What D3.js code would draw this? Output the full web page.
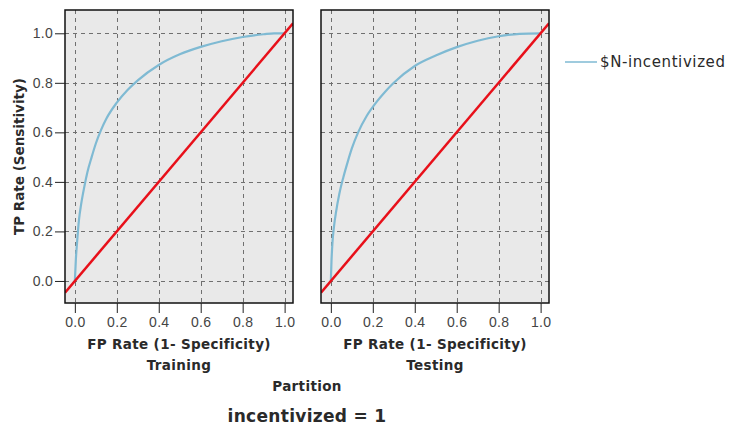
<!DOCTYPE html>
<html>
<head>
<meta charset="utf-8">
<script src="https://cdn.jsdelivr.net/npm/d3@7/dist/d3.min.js"></script>
<style>
  html, body { margin: 0; padding: 0; background: #fff; }
  svg { display: block; font-family: "DejaVu Sans", sans-serif; }
</style>
</head>
<body>
<svg id="chart" width="732" height="428"></svg>
<script>
// ROC curve for the incentivized = 1 subgroup, one panel per partition
const partitions = ["Training", "Testing"];
const seriesName = "$N-incentivized";

const trainFpr = [0, 0.005, 0.01, 0.02, 0.03, 0.045, 0.06, 0.08, 0.1, 0.125, 0.15, 0.2, 0.25, 0.3, 0.4, 0.5, 0.6, 0.7, 0.8, 0.9, 0.95, 1.0];
const trainTpr = [0, 0.09, 0.15, 0.25, 0.31, 0.38, 0.44, 0.50, 0.555, 0.61, 0.655, 0.72, 0.77, 0.81, 0.872, 0.915, 0.945, 0.968, 0.985, 0.996, 1.0, 1.0];

const testFpr = [0, 0.003, 0.008, 0.015, 0.025, 0.04, 0.06, 0.08, 0.1, 0.13, 0.17, 0.22, 0.26, 0.3, 0.4, 0.5, 0.6, 0.7, 0.8, 0.9, 1.0];
const testTpr = [0, 0.08, 0.16, 0.22, 0.28, 0.35, 0.42, 0.48, 0.535, 0.6, 0.665, 0.725, 0.765, 0.8, 0.868, 0.91, 0.944, 0.97, 0.988, 0.998, 1.0];

const tickValues = [0, 0.2, 0.4, 0.6, 0.8, 1.0];
const xDomain = [-0.047, 1.04];
const yDomain = [-0.089, 1.094];

const rocData = [
  trainFpr.map((f, i) => [f, trainTpr[i]]),
  testFpr.map((f, i) => [f, testTpr[i]])
];

const svg = d3.select("#chart");
const panelLeft = [65, 321];
const panelW = 228, panelTop = 10, panelH = 293;

const curveColor = "#7fbad3";
const refColor = "#e8101a";
const textColor = "#2a2a2a";
const titleSize = 13.5, titleSpacing = 0.35;

partitions.forEach((name, p) => {
  const x = d3.scaleLinear().domain(xDomain).range([panelLeft[p], panelLeft[p] + panelW]);
  const y = d3.scaleLinear().domain(yDomain).range([panelTop + panelH, panelTop]);
  const g = svg.append("g");

  g.append("rect")
    .attr("x", panelLeft[p]).attr("y", panelTop)
    .attr("width", panelW).attr("height", panelH)
    .attr("fill", "#e9e9e9");

  // dashed grid
  g.append("g").selectAll("line").data(tickValues).join("line")
    .attr("x1", d => Math.round(x(d)) + 0.5).attr("x2", d => Math.round(x(d)) + 0.5)
    .attr("y1", panelTop).attr("y2", panelTop + panelH)
    .attr("stroke", "#707070").attr("stroke-width", 1).attr("stroke-dasharray", "4,4");
  g.append("g").selectAll("line").data(tickValues).join("line")
    .attr("y1", d => Math.round(y(d)) + 0.5).attr("y2", d => Math.round(y(d)) + 0.5)
    .attr("x1", panelLeft[p]).attr("x2", panelLeft[p] + panelW)
    .attr("stroke", "#707070").attr("stroke-width", 1).attr("stroke-dasharray", "4,4");

  const clipId = "clip" + p;
  g.append("clipPath").attr("id", clipId).append("rect")
    .attr("x", panelLeft[p]).attr("y", panelTop)
    .attr("width", panelW).attr("height", panelH);

  // ROC curve
  g.append("path")
    .datum(rocData[p])
    .attr("clip-path", `url(#${clipId})`)
    .attr("fill", "none").attr("stroke", curveColor).attr("stroke-width", 2.2)
    .attr("stroke-linejoin", "round")
    .attr("d", d3.line().x(d => x(d[0])).y(d => y(d[1])).curve(d3.curveMonotoneX));

  // chance diagonal
  g.append("path")
    .datum([[xDomain[0], xDomain[0]], [xDomain[1], xDomain[1]]])
    .attr("clip-path", `url(#${clipId})`)
    .attr("fill", "none").attr("stroke", refColor).attr("stroke-width", 2.5)
    .attr("d", d3.line().x(d => x(d[0])).y(d => y(d[1])));

  g.append("rect")
    .attr("x", panelLeft[p]).attr("y", panelTop)
    .attr("width", panelW).attr("height", panelH)
    .attr("fill", "none").attr("stroke", "#111").attr("stroke-width", 1.5);

  // x axis
  const xAxis = g.append("g")
    .attr("transform", `translate(0,${panelTop + panelH})`)
    .call(d3.axisBottom(x).tickValues(tickValues).tickFormat(d3.format(".1f")).tickSize(10).tickPadding(4));
  xAxis.select(".domain").remove();
  xAxis.selectAll(".tick line").attr("stroke", "#222");
  xAxis.selectAll("text").attr("fill", "#444").attr("font-size", 14).attr("letter-spacing", 0.3);

  if (p === 0) {
    const yAxis = g.append("g")
      .attr("transform", `translate(${panelLeft[p]},0)`)
      .call(d3.axisLeft(y).tickValues(tickValues).tickFormat(d3.format(".1f")).tickSize(10).tickPadding(2));
    yAxis.select(".domain").remove();
    yAxis.selectAll(".tick line").attr("stroke", "#222");
    yAxis.selectAll("text").attr("fill", "#444").attr("font-size", 14).attr("letter-spacing", 0.3);
  }

  const cx = panelLeft[p] + panelW / 2;
  g.append("text").attr("x", cx).attr("y", 349)
    .attr("text-anchor", "middle").attr("font-size", titleSize).attr("font-weight", "bold")
    .attr("letter-spacing", titleSpacing)
    .attr("fill", textColor).text("FP Rate (1- Specificity)");
  g.append("text").attr("x", cx).attr("y", 370)
    .attr("text-anchor", "middle").attr("font-size", titleSize).attr("font-weight", "bold")
    .attr("letter-spacing", titleSpacing)
    .attr("fill", textColor).text(name);
});

// y axis title
svg.append("text")
  .attr("transform", `translate(24,${panelTop + panelH / 2}) rotate(-90)`)
  .attr("text-anchor", "middle").attr("font-size", titleSize).attr("font-weight", "bold")
  .attr("fill", textColor).text("TP Rate (Sensitivity)");

// facet titles
svg.append("text").attr("x", 307).attr("y", 391)
  .attr("text-anchor", "middle").attr("font-size", titleSize).attr("font-weight", "bold")
  .attr("letter-spacing", titleSpacing)
  .attr("fill", textColor).text("Partition");
svg.append("text").attr("x", 307).attr("y", 422)
  .attr("text-anchor", "middle").attr("font-size", 17).attr("font-weight", "bold")
  .attr("letter-spacing", 0.3)
  .attr("fill", textColor).text("incentivized = 1");

// legend
svg.append("line").attr("x1", 565).attr("x2", 597).attr("y1", 62).attr("y2", 62)
  .attr("stroke", curveColor).attr("stroke-width", 1.5);
svg.append("text").attr("x", 600).attr("y", 67)
  .attr("font-size", 15).attr("letter-spacing", 0.6).attr("fill", textColor).text(seriesName);
</script>
</body>
</html>
